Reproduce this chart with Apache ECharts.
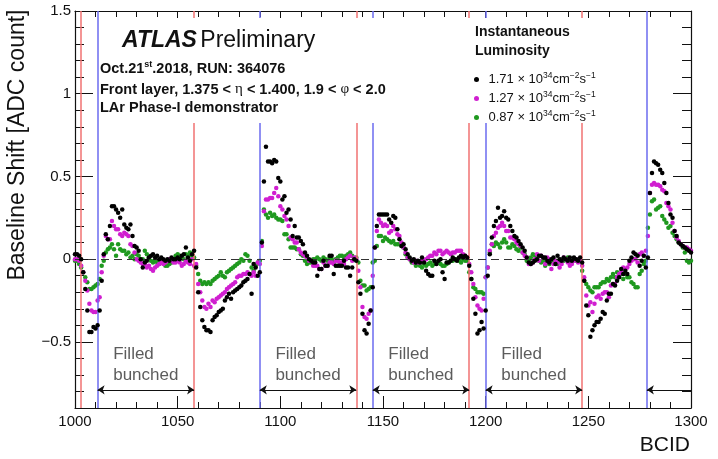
<!DOCTYPE html>
<html>
<head>
<meta charset="utf-8">
<script src="https://cdn.jsdelivr.net/npm/echarts@6/dist/echarts.min.js"></script>
<style>html,body{margin:0;padding:0;background:#fff;}#c{width:718px;height:459px;}</style>
</head>
<body>
<div id="c"></div>
<script>
// ---------------- data ----------------
const bcidStart = 1000;            // first BCID of the value arrays (one value per BCID)
const lumiNames = ['1.71', '1.27', '0.87'];
const redLines = [1003, 1058, 1137, 1192, 1247];
const blueLines = [1011, 1090, 1145, 1200, 1278.5];
const yMajorTicks = [-0.5, 0, 0.5, 1, 1.5];
const arrowY = -0.79;
const annotY = -0.64;

const lumi171 = [
 0.03,0.03,0.02,0.00,-0.08,-0.18,-0.31,-0.44,-0.44,-0.41,   // 1000
 -0.42,-0.40,-0.31,-0.13,0.03,0.15,0.12,0.20,0.32,0.32,     // 1010
 0.30,0.28,0.25,0.30,0.21,0.19,0.18,0.21,0.14,0.08,         // 1020
 0.07,0.05,0.00,-0.05,-0.02,-0.01,0.01,0.02,0.03,0.01,      // 1030
 0.02,0.00,0.01,0.00,-0.01,0.00,-0.01,0.01,0.00,0.00,       // 1040
 0.01,0.00,0.02,0.03,0.07,0.01,-0.01,0.03,0.05,-0.05,       // 1050
 -0.20,-0.29,-0.37,-0.41,-0.43,-0.43,-0.44,-0.37,-0.35,-0.34, // 1060
 -0.32,-0.31,-0.30,-0.25,-0.23,-0.21,-0.24,-0.20,-0.19,-0.18, // 1070
 -0.17,-0.16,-0.14,-0.13,-0.12,-0.09,-0.21,-0.03,-0.05,-0.10, // 1080
 -0.08,0.10,0.47,0.68,0.59,0.59,0.58,0.60,0.59,0.49,        // 1090
 0.47,0.36,0.38,0.28,0.30,0.24,0.14,0.20,0.13,0.13,         // 1100
 0.11,0.09,0.04,0.02,0.00,-0.01,-0.02,-0.02,-0.10,-0.06,    // 1110
 -0.06,-0.01,-0.04,-0.04,0.02,0.02,-0.09,-0.04,-0.04,-0.04, // 1120
 -0.04,-0.01,-0.05,-0.05,-0.10,-0.05,0.00,-0.01,-0.14,-0.21, // 1130
 -0.33,-0.43,-0.45,-0.39,-0.31,-0.17,0.07,0.20,0.27,0.27,   // 1140
 0.27,0.27,0.27,0.24,0.22,0.26,0.25,0.18,0.12,0.08,         // 1150
 0.09,0.06,0.03,0.01,-0.01,0.00,-0.02,-0.01,-0.02,0.01,     // 1160
 -0.02,-0.07,-0.09,-0.10,-0.10,-0.01,-0.03,-0.01,0.00,-0.08, // 1170
 -0.12,-0.02,-0.02,-0.01,0.01,0.00,-0.01,0.01,0.02,0.01,    // 1180
 0.02,0.01,-0.04,-0.12,-0.24,-0.33,-0.45,-0.43,-0.38,-0.42, // 1190
 -0.31,-0.10,0.03,0.13,0.20,0.23,0.31,0.25,0.26,0.29,       // 1200
 0.25,0.24,0.20,0.17,0.14,0.13,0.11,0.09,0.07,0.05,         // 1210
 0.01,-0.02,-0.03,-0.02,-0.01,0.00,0.02,0.02,0.01,0.01,     // 1220
 -0.01,-0.02,0.00,0.01,-0.03,0.02,0.00,-0.01,0.01,0.00,     // 1230
 -0.01,0.01,-0.01,0.01,0.00,-0.01,0.01,-0.02,-0.13,-0.28,   // 1240
 -0.34,-0.47,-0.43,-0.40,-0.38,-0.38,-0.36,-0.32,-0.33,-0.25, // 1250
 -0.21,-0.21,-0.15,-0.16,-0.13,-0.11,-0.06,-0.09,-0.07,-0.09, // 1260
 -0.01,0.01,0.04,0.03,0.02,-0.04,-0.01,0.02,-0.05,0.01,     // 1270
 0.40,0.52,0.59,0.58,0.57,0.54,0.52,0.46,0.40,0.34,         // 1280
 0.27,0.25,0.17,0.14,0.10,0.09,0.08,0.07,0.06,0.05,         // 1290
 0.04                                                        // 1300
];

const lumi127 = [
 0.00,0.00,-0.01,-0.04,-0.08,-0.13,-0.19,-0.27,-0.31,-0.32, // 1000
 -0.32,-0.25,-0.23,-0.08,0.02,0.14,0.12,0.12,0.23,0.20,     // 1010
 0.18,0.18,0.15,0.14,0.16,0.15,0.14,0.09,0.08,0.04,         // 1020
 0.00,-0.01,-0.02,-0.03,-0.03,-0.05,-0.04,-0.06,-0.07,-0.05, // 1030
 -0.04,-0.03,-0.02,-0.03,-0.02,-0.01,0.00,-0.01,-0.02,-0.02, // 1040
 -0.01,-0.02,-0.04,-0.03,-0.01,-0.02,-0.03,0.00,-0.04,-0.03, // 1050
 -0.15,-0.20,-0.25,-0.29,-0.30,-0.27,-0.29,-0.25,-0.26,-0.24, // 1060
 -0.23,-0.22,-0.21,-0.20,-0.18,-0.17,-0.16,-0.15,-0.14,-0.11, // 1070
 -0.10,-0.10,-0.09,-0.09,-0.08,-0.09,-0.10,-0.08,-0.10,-0.02, // 1080
 -0.03,0.08,0.29,0.36,0.36,0.37,0.37,0.40,0.43,0.38,        // 1090
 0.32,0.30,0.26,0.24,0.20,0.13,0.12,0.10,0.10,0.06,         // 1100
 0.04,0.03,0.02,0.01,-0.01,-0.01,-0.04,-0.04,-0.04,-0.06,   // 1110
 -0.06,-0.02,-0.04,-0.04,-0.02,-0.02,-0.03,-0.01,-0.01,-0.02, // 1120
 -0.02,-0.03,0.00,0.01,0.02,-0.01,0.01,0.00,-0.07,-0.17,    // 1130
 -0.29,-0.35,-0.36,-0.33,-0.31,-0.10,0.07,0.17,0.24,0.22,   // 1140
 0.20,0.21,0.20,0.16,0.17,0.20,0.18,0.15,0.14,0.10,         // 1150
 0.07,0.04,0.01,0.00,-0.01,-0.02,-0.01,-0.02,-0.02,-0.01,   // 1160
 -0.01,0.00,0.01,0.02,0.02,0.04,0.03,0.05,0.05,0.03,        // 1170
 0.04,0.05,0.04,0.03,0.04,0.04,0.05,0.05,0.05,0.03,         // 1180
 0.02,0.01,-0.03,-0.08,-0.15,-0.23,-0.28,-0.30,-0.31,-0.24, // 1190
 -0.11,-0.05,0.05,0.09,0.14,0.16,0.19,0.20,0.22,0.20,       // 1200
 0.17,0.17,0.13,0.13,0.12,0.10,0.09,0.08,0.04,0.02,         // 1210
 0.01,-0.03,-0.03,-0.02,0.00,0.03,-0.01,0.02,0.01,-0.03,    // 1220
 0.01,0.00,-0.06,-0.03,-0.01,-0.02,-0.05,-0.03,0.01,0.00,   // 1230
 -0.02,-0.04,-0.03,-0.01,0.00,-0.02,-0.01,-0.04,-0.11,-0.22, // 1240
 -0.28,-0.26,-0.32,-0.27,-0.23,-0.22,-0.24,-0.21,-0.20,-0.20, // 1250
 -0.23,-0.16,-0.15,-0.15,-0.11,-0.09,-0.08,-0.05,-0.06,-0.05, // 1260
 -0.03,-0.01,0.00,0.00,-0.02,0.03,0.04,0.02,0.05,0.14,      // 1270
 0.40,0.45,0.46,0.45,0.45,0.44,0.42,0.41,0.34,0.32,         // 1280
 0.30,0.22,0.17,0.13,0.11,0.09,0.08,0.07,0.07,0.06,         // 1290
 0.05                                                        // 1300
];

const lumi087 = [
 -0.01,-0.01,-0.03,-0.05,-0.08,-0.11,-0.14,-0.18,-0.18,-0.17, // 1000
 -0.16,-0.15,-0.12,-0.04,-0.01,0.04,0.06,0.07,0.09,0.06,    // 1010
 0.02,0.09,0.06,0.05,0.05,0.03,0.04,0.01,0.02,0.00,         // 1020
 0.03,0.02,0.00,0.00,0.05,0.03,0.01,-0.01,-0.02,-0.01,      // 1030
 -0.02,-0.03,-0.02,-0.01,-0.04,-0.04,-0.03,-0.02,0.00,0.02, // 1040
 0.03,0.02,0.01,0.00,0.03,0.02,0.04,0.02,0.01,-0.04,        // 1050
 -0.09,-0.13,-0.15,-0.14,-0.15,-0.14,-0.15,-0.13,-0.12,-0.11, // 1060
 -0.10,-0.08,-0.10,-0.11,-0.08,-0.07,-0.06,-0.05,-0.04,-0.03, // 1070
 -0.02,0.00,-0.01,0.03,0.02,-0.01,-0.05,-0.07,-0.04,-0.02,  // 1080
 -0.01,0.11,0.30,0.27,0.25,0.28,0.26,0.27,0.25,0.24,        // 1090
 0.24,0.23,0.15,0.15,0.12,0.07,0.07,0.07,0.06,0.06,         // 1100
 0.03,0.02,-0.01,-0.03,-0.02,-0.02,0.00,0.00,0.01,0.00,     // 1110
 -0.01,0.01,0.00,-0.01,0.01,0.00,-0.01,0.00,0.01,0.02,      // 1120
 0.02,0.01,0.02,0.03,0.04,0.02,0.00,0.01,-0.02,-0.13,       // 1130
 -0.16,-0.16,-0.19,-0.18,-0.17,-0.02,-0.01,0.08,0.14,0.14,  // 1140
 0.11,0.13,0.12,0.11,0.10,0.11,0.09,0.09,0.09,0.08,         // 1150
 0.07,0.03,0.01,0.00,-0.02,-0.02,-0.04,-0.03,-0.04,-0.05,   // 1160
 -0.03,-0.04,-0.03,-0.02,-0.04,-0.03,-0.02,-0.02,-0.03,-0.04, // 1170
 -0.04,-0.03,-0.02,-0.01,-0.01,0.00,0.00,-0.01,-0.02,0.00,  // 1180
 -0.01,-0.01,-0.08,-0.12,-0.17,-0.18,-0.20,-0.20,-0.20,-0.21, // 1190
 -0.11,-0.05,0.04,0.09,0.08,0.10,0.09,0.07,0.10,0.12,       // 1200
 0.10,0.07,0.07,0.09,0.08,0.06,0.05,0.07,0.04,0.03,         // 1210
 -0.01,-0.01,0.01,0.03,0.02,0.00,-0.01,-0.02,-0.01,-0.04,   // 1220
 -0.02,-0.03,-0.01,-0.02,-0.01,-0.03,-0.01,0.00,-0.01,0.00, // 1230
 0.01,-0.02,-0.01,0.00,-0.01,0.00,-0.01,-0.07,-0.13,-0.15,  // 1240
 -0.17,-0.19,-0.20,-0.17,-0.17,-0.17,-0.15,-0.14,-0.14,-0.12, // 1250
 -0.13,-0.11,-0.09,-0.11,-0.08,-0.10,-0.09,-0.12,-0.09,-0.11, // 1260
 -0.11,-0.14,-0.15,-0.17,-0.17,-0.09,-0.07,-0.03,-0.01,0.19, // 1270
 0.27,0.35,0.36,0.30,0.31,0.32,0.26,0.24,0.22,0.19,         // 1280
 0.20,0.16,0.14,0.12,0.10,0.09,0.07,0.04,-0.01,-0.02,       // 1290
 -0.01                                                       // 1300
];

// ---------------- chart ----------------
const FONT = "'Liberation Sans', Arial, Helvetica, sans-serif";
const INK = '#111';
const toPts = arr => arr.map((v, i) => [bcidStart + i, v]);

const fmtY = v => {
  const r = Math.round(v * 10) / 10;
  if (Math.abs(r * 2 - Math.round(r * 2)) > 1e-6) return '';
  return r < 0 ? '\u2212' + Math.abs(r) : String(r);
};

const xBase = {
  type: 'value', min: 1000, max: 1300, interval: 50,
  splitLine: { show: false },
  axisLine: { show: true, onZero: false, lineStyle: { color: INK, width: 1.2 } },
  axisTick: { show: true, inside: true, length: 12, lineStyle: { color: INK, width: 1 } },
  minorTick: { show: true, splitNumber: 5, length: 6, lineStyle: { color: INK, width: 1 } }
};
const yBase = {
  type: 'value', min: -0.9, max: 1.5,
  splitLine: { show: false }
};

const vLines = [];
redLines.forEach(r => vLines.push({ xAxis: r, lineStyle: { color: '#f07272', width: 1.5, type: 'solid' } }));
blueLines.forEach(b => vLines.push({ xAxis: b, lineStyle: { color: '#6b6bef', width: 1.5, type: 'solid' } }));
vLines.push({ yAxis: 0, lineStyle: { color: '#333', width: 1, type: [8, 5] } });
const arrows = [];
for (let i = 0; i < blueLines.length; i++) {
  const start = blueLines[i];
  const end = i + 1 < redLines.length ? redLines[i + 1] : 1300;
  const endSym = i + 1 < redLines.length ? 'arrow' : 'none';
  arrows.push([
    { coord: [start, arrowY], symbol: 'arrow', symbolSize: 7, lineStyle: { color: INK, width: 1, type: 'solid' } },
    { coord: [end, arrowY], symbol: endSym, symbolSize: 7 }
  ]);
}

const seriesColors = { '1.71': '#000000', '1.27': '#d01fd0', '0.87': '#1f991f' };
const seriesData = { '1.71': lumi171, '1.27': lumi127, '0.87': lumi087 };

const series = [];
['0.87', '1.27', '1.71'].forEach((nm, idx) => {
  const s = {
    name: nm, type: 'scatter', symbol: 'circle', symbolSize: 4.5,
    itemStyle: { color: seriesColors[nm], opacity: 1 },
    data: toPts(seriesData[nm]), z: 3 + idx, silent: true
  };
  if (nm === '0.87') {
    s.markLine = {
      silent: true, animation: false, symbol: ['none', 'none'],
      label: { show: false }, emphasis: { disabled: true },
      data: vLines.concat(arrows)
    };
  }
  series.push(s);
});
series.push({
  name: 'annot', type: 'scatter', symbolSize: 0, silent: true, z: 6,
  data: blueLines.slice(0, 4).map(b => [b + 7.6, annotY]),
  label: { show: true, position: 'right', distance: 0, formatter: 'Filled\nbunched',
    fontSize: 17, lineHeight: 21, color: '#333', fontFamily: FONT }
});

const chart = echarts.init(document.getElementById('c'), null, { renderer: 'canvas' });
chart.setOption({
  animation: false,
  backgroundColor: '#fff',
  grid: { left: 75, right: 27, top: 11, bottom: 51, containLabel: false },
  xAxis: [
    Object.assign({}, xBase, { position: 'bottom',
      axisLabel: { show: true, margin: 6, fontSize: 15, color: INK, fontFamily: FONT, formatter: v => String(v) } }),
    Object.assign({}, xBase, { position: 'top', axisLabel: { show: false } })
  ],
  yAxis: [
    Object.assign({}, yBase, { position: 'left', interval: 0.1,
      axisLine: { show: true, onZero: false, lineStyle: { color: INK, width: 1.2 } },
      axisTick: { show: true, inside: true, length: 9, lineStyle: { color: INK } },
      axisLabel: { show: true, margin: 4, fontSize: 15, color: INK, fontFamily: FONT, formatter: fmtY } }),
    Object.assign({}, yBase, { position: 'left',
      axisLine: { show: false },
      axisTick: { show: true, inside: true, length: 18, customValues: yMajorTicks, lineStyle: { color: INK } },
      axisLabel: { show: false } }),
    Object.assign({}, yBase, { position: 'right', interval: 0.1,
      axisLine: { show: true, onZero: false, lineStyle: { color: INK, width: 1.2 } },
      axisTick: { show: true, inside: true, length: 9, lineStyle: { color: INK } },
      axisLabel: { show: false } }),
    Object.assign({}, yBase, { position: 'right',
      axisLine: { show: false },
      axisTick: { show: true, inside: true, length: 18, customValues: yMajorTicks, lineStyle: { color: INK } },
      axisLabel: { show: false } })
  ],
  legend: {
    data: ['1.71', '1.27', '0.87'], orient: 'vertical', left: 469, top: 66,
    itemWidth: 14, itemHeight: 5, itemGap: 2, icon: 'circle', selectedMode: false, z: 100,
    formatter: name => name + ' \u00d7 10{s|34}cm{s|\u22122}s{s|\u22121}',
    textStyle: { fontSize: 13, color: INK, fontFamily: FONT, lineHeight: 17,
      rich: { s: { fontSize: 8.5, lineHeight: 9, verticalAlign: 'top', fontFamily: FONT, color: INK } } }
  },
  graphic: [
    { type: 'rect', z: 50, silent: true, shape: { x: 99, y: 18, width: 306, height: 105 }, style: { fill: '#fff' } },
    { type: 'rect', z: 50, silent: true, shape: { x: 462, y: 18, width: 162, height: 105 }, style: { fill: '#fff' } },
    { type: 'text', z: 60, x: 122, y: 41, silent: true, style: {
        text: '{a|ATLAS} {b|Preliminary}', verticalAlign: 'middle', fill: INK,
        rich: { a: { fontSize: 23, fontWeight: 'bold', fontStyle: 'italic', fontFamily: FONT, fill: INK },
                b: { fontSize: 23, fontFamily: FONT, fill: INK } } } },
    { type: 'text', z: 60, x: 100, y: 69, silent: true, style: {
        text: 'Oct.21{s|st}.2018, RUN: 364076', verticalAlign: 'middle', fill: INK,
        font: 'bold 14.5px ' + FONT, lineHeight: 18,
        rich: { s: { fontSize: 9, fontWeight: 'bold', lineHeight: 9, verticalAlign: 'top', fontFamily: FONT } } } },
    { type: 'text', z: 60, x: 100, y: 89.5, silent: true, style: {
        text: 'Front layer, 1.375 < {g|\u03b7} < 1.400, 1.9 < {g|\u03c6} < 2.0', verticalAlign: 'middle', fill: INK,
        font: 'bold 14.5px ' + FONT,
        rich: { g: { fontSize: 15, fontWeight: 'normal', fontFamily: "'Liberation Serif', 'DejaVu Serif', serif" } } } },
    { type: 'text', z: 60, x: 100, y: 108, silent: true, style: {
        text: 'LAr Phase-I demonstrator', verticalAlign: 'middle', fill: INK, font: 'bold 14.5px ' + FONT } },
    { type: 'text', z: 60, x: 475, y: 32, silent: true, style: {
        text: 'Instantaneous', verticalAlign: 'middle', fill: INK, font: 'bold 14px ' + FONT } },
    { type: 'text', z: 60, x: 475, y: 51, silent: true, style: {
        text: 'Luminosity', verticalAlign: 'middle', fill: INK, font: 'bold 14px ' + FONT } },
    { type: 'text', z: 60, x: 18, y: 145, rotation: Math.PI / 2, silent: true, style: {
        text: 'Baseline Shift [ADC count]', align: 'center', verticalAlign: 'middle', fill: INK, font: '23px ' + FONT } },
    { type: 'text', z: 60, x: 690, y: 445, silent: true, style: {
        text: 'BCID', align: 'right', verticalAlign: 'middle', fill: INK, font: '21px ' + FONT } }
  ],
  series: series
});
</script>
</body>
</html>
